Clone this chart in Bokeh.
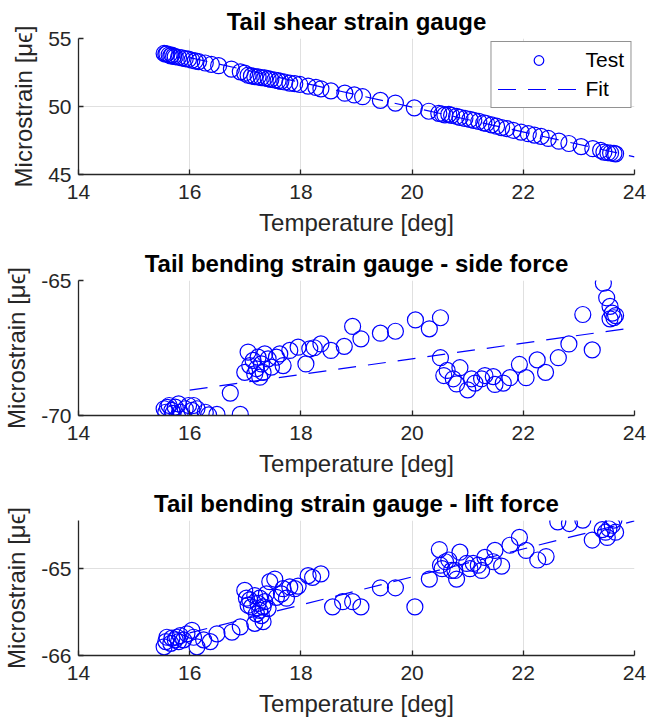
from bokeh.plotting import figure
from bokeh.layouts import column
from bokeh.models import Range1d, FixedTicker, Legend, LegendItem
from bokeh.embed import file_html
from bokeh.resources import INLINE

# ---------------- data ----------------
temp_shear = [15.54, 15.57, 15.59, 15.63, 15.66, 15.68, 15.71, 15.74, 15.80, 15.86,
              15.92, 15.98, 16.04, 16.10, 16.16, 16.28, 16.39, 16.52, 16.75, 16.91,
              16.99, 17.05, 17.11, 17.17, 17.23, 17.29, 17.35, 17.41, 17.46, 17.53,
              17.59, 17.64, 17.71, 17.80, 17.89, 17.98, 18.13, 18.27, 18.36, 18.54,
              18.79, 18.96, 19.11, 19.43, 19.70, 20.04, 20.30, 20.48, 20.54, 20.59,
              20.66, 20.71, 20.80, 20.86, 20.95, 21.04, 21.11, 21.20, 21.29, 21.34,
              21.43, 21.52, 21.61, 21.70, 21.82, 21.96, 22.09, 22.20, 22.32, 22.45,
              22.64, 22.82, 23.04, 23.25, 23.39, 23.45, 23.52, 23.57, 23.63, 23.66]
strain_shear = [53.90, 53.85, 53.88, 53.80, 53.72, 53.78, 53.70, 53.66, 53.62, 53.58,
                53.52, 53.48, 53.40, 53.35, 53.30, 53.20, 53.10, 53.00, 52.75, 52.55,
                52.45, 52.30, 52.25, 52.20, 52.18, 52.12, 52.10, 52.05, 52.00, 51.95,
                51.90, 51.85, 51.80, 51.72, 51.68, 51.62, 51.50, 51.40, 51.30, 51.15,
                50.98, 50.85, 50.72, 50.45, 50.25, 49.90, 49.65, 49.50, 49.45, 49.38,
                49.42, 49.35, 49.28, 49.20, 49.12, 49.05, 48.98, 48.90, 48.80, 48.75,
                48.65, 48.55, 48.45, 48.38, 48.25, 48.12, 48.00, 47.90, 47.80, 47.65,
                47.45, 47.28, 47.05, 46.90, 46.78, 46.65, 46.60, 46.58, 46.55, 46.52]

temp_side = [15.54, 15.57, 15.60, 15.63, 15.68, 15.70, 15.74, 15.80, 15.83, 15.92,
             15.98, 16.04, 16.07, 16.13, 16.28, 16.34, 16.49, 16.73, 16.91,
             16.99, 17.05, 17.08, 17.14, 17.17, 17.20, 17.23, 17.26, 17.29, 17.32,
             17.35, 17.41, 17.47, 17.56, 17.62, 17.68, 17.80, 17.95, 18.09, 18.16,
             18.24, 18.36, 18.54, 18.78, 18.93, 19.08, 19.43, 19.70, 20.06, 20.31,
             20.51, 20.51, 20.57, 20.63, 20.74, 20.80, 20.86, 21.00, 21.07, 21.13,
             21.25, 21.31, 21.46, 21.49, 21.64, 21.76, 21.93, 22.05, 22.25, 22.40,
             22.63, 22.82, 23.07, 23.24, 23.44, 23.50, 23.56, 23.60, 23.63, 23.56, 23.66]
strain_side = [-69.75, -69.88, -69.70, -69.63, -69.81, -69.92, -69.69, -69.57, -69.88, -69.75,
               -69.63, -69.81, -69.63, -69.75, -69.88, -69.98, -69.96, -69.17, -69.96,
               -68.40, -67.65, -68.15, -67.96, -68.46, -68.27, -67.84, -68.58, -68.09, -68.40,
               -67.72, -67.90, -68.21, -67.84, -67.72, -68.15, -67.59, -67.47, -68.09, -67.53,
               -67.49, -67.35, -67.59, -67.44, -66.70, -67.16, -66.95, -66.88, -66.46, -66.79,
               -66.38, -67.86, -68.52, -68.33, -68.64, -68.83, -68.23, -69.05, -68.64, -68.80,
               -68.64, -68.52, -68.56, -68.85, -68.80, -68.60, -68.11, -68.60, -67.94, -68.40,
               -67.86, -67.35, -66.26, -67.57, -65.10, -65.64, -65.96, -66.21, -66.38, -66.42, -66.30]

temp_lift = [15.54, 15.57, 15.59, 15.66, 15.68, 15.74, 15.77, 15.80, 15.83, 15.89,
             15.95, 16.04, 16.07, 16.13, 16.25, 16.37, 16.49, 16.76, 16.91,
             16.99, 17.02, 17.05, 17.08, 17.11, 17.17, 17.17, 17.20, 17.23, 17.26,
             17.26, 17.29, 17.32, 17.32, 17.35, 17.38, 17.41, 17.44, 17.53, 17.56,
             17.65, 17.68, 17.74, 17.80, 17.89, 17.95, 18.13, 18.21, 18.36, 18.57,
             18.75, 18.93, 19.08, 19.43, 19.70, 20.05, 20.31, 20.49, 20.51, 20.54,
             20.60, 20.66, 20.71, 20.77, 20.80, 20.86, 20.98, 21.04, 21.10, 21.19,
             21.25, 21.31, 21.46, 21.49, 21.61, 21.76, 21.93, 22.05, 22.26, 22.41,
             22.62, 22.83, 23.07, 23.24, 23.42, 23.48, 23.51, 23.54, 23.60, 23.63, 23.66]
strain_lift = [-65.90, -65.84, -65.79, -65.86, -65.80, -65.82, -65.79, -65.84, -65.77, -65.82,
               -65.75, -65.71, -65.79, -65.90, -65.82, -65.84, -65.75, -65.73, -65.67,
               -65.25, -65.34, -65.42, -65.36, -65.44, -65.31, -65.63, -65.52, -65.40, -65.48,
               -65.34, -65.54, -65.44, -65.61, -65.38, -65.29, -65.46, -65.15, -65.12, -65.33,
               -65.29, -65.23, -65.34, -65.21, -65.23, -65.20, -65.08, -65.10, -65.06, -65.44,
               -65.38, -65.38, -65.44, -65.22, -65.22, -65.44, -65.12, -64.78, -64.96, -65.00,
               -64.92, -64.90, -65.02, -65.02, -65.12, -64.81, -64.94, -65.00, -64.94, -64.96,
               -65.02, -64.87, -64.92, -64.79, -64.97, -64.73, -64.64, -64.79, -64.90, -64.86,
               -64.46, -64.48, -64.44, -64.67, -64.55, -64.58, -64.64, -64.54, -64.50, -64.44, -64.58]

fit_temp = [16.0, 24.0]
fit_shear = [53.6, 46.3]
fit_side = [-69.06, -66.74]
fit_lift = [-65.74, -64.45]

x_ticks = [14, 16, 18, 20, 22, 24]
y_ticks_shear = [45, 50, 55]
y_ticks_side = [-70, -65]
y_ticks_lift = [-66, -65]

titles = ["Tail shear strain gauge",
          "Tail bending strain gauge - side force",
          "Tail bending strain gauge - lift force"]
x_label = "Temperature [deg]"
y_label = "Microstrain [\u03bc\u03f5]"

FONT = "Liberation Sans"
BLUE = "#0000ff"
AX = "#262626"


def make(title, tx, ty, fy, yr, yt, h, btop, bbot, legend=False):
    p = figure(width=647, height=h, x_range=Range1d(14, 24), y_range=Range1d(*yr),
               output_backend="svg", toolbar_location=None, title=title,
               min_border_left=74, min_border_right=13,
               min_border_top=btop, min_border_bottom=bbot)
    p.outline_line_color = None
    p.background_fill_color = "white"
    p.border_fill_color = "white"
    p.title.align = "center"
    p.title.text_font = FONT
    p.title.text_font_size = "24px"
    p.title.text_font_style = "bold"
    p.title.text_color = "black"
    p.title.standoff = 8

    r1 = p.scatter(tx, ty, marker="circle", size=16, fill_color=None,
                   line_color=BLUE, line_width=1.2)
    r2 = p.line(fit_temp, fy, line_color=BLUE, line_width=1.2, line_dash="18 12")

    for ax, ticks in ((p.xaxis[0], x_ticks), (p.yaxis[0], yt)):
        ax.ticker = FixedTicker(ticks=ticks)
        ax.major_label_overrides = {t: str(t) for t in ticks}
        ax.minor_tick_line_color = None
        ax.major_tick_in = 5
        ax.major_tick_out = 0
        ax.axis_line_color = AX
        ax.axis_line_width = 1.3
        ax.major_tick_line_color = AX
        ax.major_tick_line_width = 1.3
        ax.major_label_text_font = FONT
        ax.major_label_text_font_size = "21px"
        ax.major_label_text_color = AX
        ax.axis_label_text_font = FONT
        ax.axis_label_text_font_size = "24px"
        ax.axis_label_text_font_style = "normal"
        ax.axis_label_text_color = AX
    p.xaxis.major_label_standoff = 10
    p.xaxis.axis_label_standoff = 7
    p.yaxis.major_label_standoff = 7
    p.yaxis.axis_label_standoff = 8
    p.xaxis.axis_label = x_label
    p.yaxis.axis_label = y_label

    p.xgrid.ticker = FixedTicker(ticks=x_ticks)
    p.ygrid.ticker = FixedTicker(ticks=yt)
    for g in (p.xgrid[0], p.ygrid[0]):
        g.grid_line_color = "#e0e0e0"
        g.grid_line_width = 1

    if legend:
        lg = Legend(items=[LegendItem(label="Test", renderers=[r1]),
                           LegendItem(label="Fit", renderers=[r2])],
                    location="top_right")
        lg.glyph_width = 82
        lg.glyph_height = 24
        lg.label_height = 24
        lg.label_standoff = 6
        lg.spacing = 5
        lg.padding = 6
        lg.margin = 3
        lg.label_text_font = FONT
        lg.label_text_font_size = "21px"
        lg.label_text_color = "black"
        lg.border_line_color = AX
        lg.border_line_width = 1
        lg.background_fill_color = "white"
        lg.background_fill_alpha = 1
        p.add_layout(lg)
    return p


p1 = make(titles[0], temp_shear, strain_shear, fit_shear, (45, 55), y_ticks_shear, 243, 38, 69, legend=True)
p2 = make(titles[1], temp_side, strain_side, fit_side, (-70, -65), y_ticks_side, 240, 37, 68)
p3 = make(titles[2], temp_lift, strain_lift, fit_lift, (-66, -64.445), y_ticks_lift, 239, 37, 67)

layout = column(p1, p2, p3, spacing=0)
open("out.html", "w").write(file_html(layout, INLINE))
